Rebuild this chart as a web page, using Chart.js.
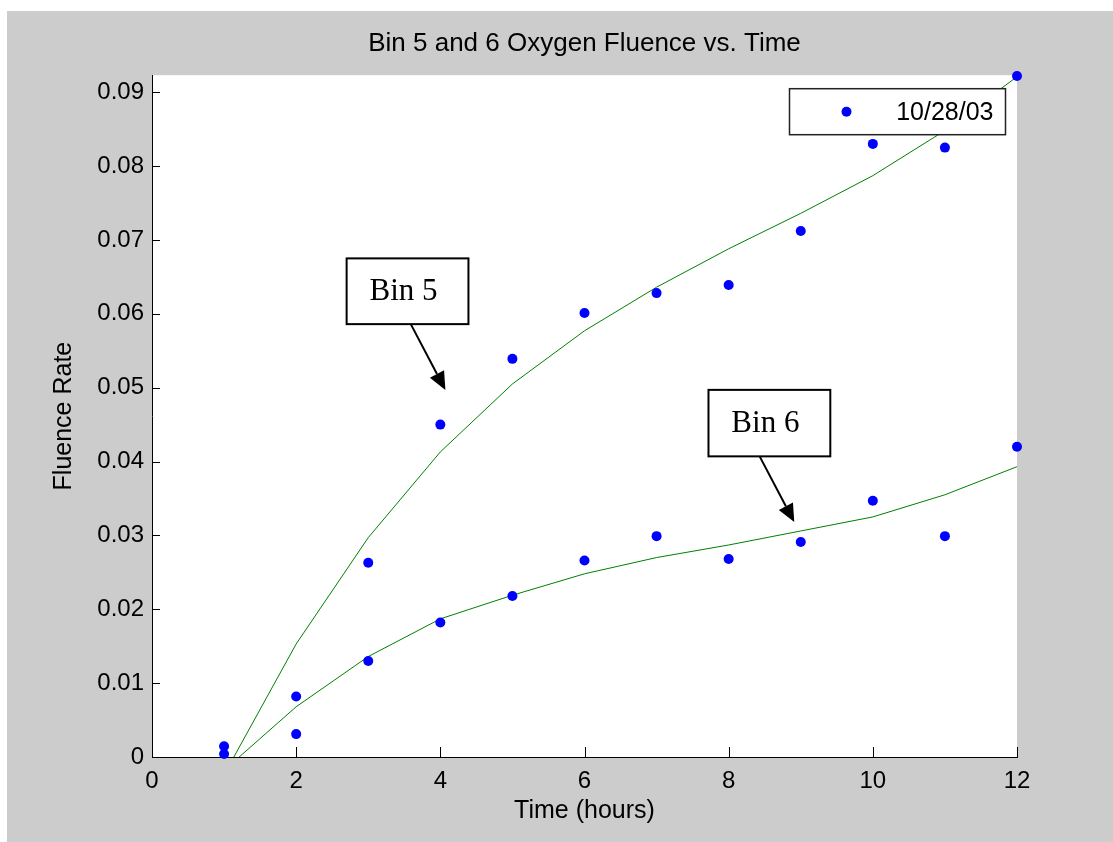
<!DOCTYPE html>
<html>
<head>
<meta charset="utf-8">
<title>Bin 5 and 6 Oxygen Fluence vs. Time</title>
<script src="https://cdn.jsdelivr.net/npm/chart.js@4.4.1/dist/chart.umd.min.js"></script>
<style>
  html, body { margin: 0; padding: 0; background: #fff; }
  #frame { position: absolute; left: 7px; top: 11px; width: 1106px; height: 831px; background: #cccccc; }
  #chart { display: block; }
</style>
</head>
<body>
<div id="frame"><canvas id="chart" width="1106" height="831"></canvas></div>
<script>
// measured values, 10/28/03
const hours = [1, 2, 3, 4, 5, 6, 7, 8, 9, 10, 11, 12];
const bin5 = [0.00145, 0.0082, 0.0263, 0.0450, 0.0539, 0.0601, 0.0628, 0.0639, 0.0712, 0.0830, 0.0825, 0.0922];
const bin6 = [0.0004, 0.0031, 0.0130, 0.0182, 0.0218, 0.0266, 0.0299, 0.0268, 0.0291, 0.0347, 0.0299, 0.0420];
// fitted curves
const bin5Fit = [-0.0024, 0.0153, 0.0297, 0.0413, 0.0505, 0.0577, 0.0636, 0.0688, 0.0736, 0.0787, 0.0848, 0.0921];
const bin6Fit = [-0.0018, 0.0068, 0.0136, 0.0187, 0.0219, 0.0248, 0.0270, 0.0287, 0.0306, 0.0325, 0.0355, 0.0393];

const xTicks = [0, 2, 4, 6, 8, 10, 12];
const yTicks = [0, 0.01, 0.02, 0.03, 0.04, 0.05, 0.06, 0.07, 0.08, 0.09];
const yMax = 0.0923;

// text boxes with arrows, in data units
const notes = [
  { text: 'Bin 5', box: [2.70, 0.0675, 4.39, 0.0586], from: [3.59, 0.0586], to: [4.07, 0.0497] },
  { text: 'Bin 6', box: [7.72, 0.0497, 9.41, 0.0407], from: [8.43, 0.0407], to: [8.91, 0.0318] },
];

const SANS = '"Liberation Sans", Arial, Helvetica, sans-serif';
const SERIF = '"Liberation Serif", "Times New Roman", serif';

const toPts = (ys) => hours.map((h, i) => ({ x: h, y: ys[i] }));

const decor = {
  id: 'decor',
  beforeDraw(chart) {
    const { ctx, chartArea: a } = chart;
    ctx.save();
    ctx.fillStyle = '#fff';
    ctx.fillRect(a.left, a.top, a.right - a.left, a.bottom - a.top);
    ctx.restore();
  },
  afterDraw(chart) {
    const { ctx, chartArea: a, scales: { x, y } } = chart;
    ctx.save();

    // inward tick marks, matlab style
    ctx.strokeStyle = '#000';
    ctx.lineWidth = 1;
    ctx.beginPath();
    xTicks.forEach(v => {
      const px = Math.round(x.getPixelForValue(v)) + 0.5;
      ctx.moveTo(px, a.bottom);
      ctx.lineTo(px, a.bottom - 10);
    });
    yTicks.forEach(v => {
      const py = Math.round(y.getPixelForValue(v)) + 0.5;
      ctx.moveTo(a.left, py);
      ctx.lineTo(a.left + 8, py);
    });
    ctx.stroke();

    // annotation boxes
    notes.forEach(n => {
      const x1 = x.getPixelForValue(n.box[0]), y1 = y.getPixelForValue(n.box[1]);
      const x2 = x.getPixelForValue(n.box[2]), y2 = y.getPixelForValue(n.box[3]);
      ctx.fillStyle = '#fff';
      ctx.fillRect(x1, y1, x2 - x1, y2 - y1);
      ctx.lineWidth = 2;
      ctx.strokeStyle = '#000';
      ctx.strokeRect(x1, y1, x2 - x1, y2 - y1);
      ctx.fillStyle = '#000';
      ctx.font = '31px ' + SERIF;
      ctx.textAlign = 'center';
      ctx.textBaseline = 'middle';
      ctx.fillText(n.text, (x1 + x2) / 2 - 4, (y1 + y2) / 2 + 1);

      const fx = x.getPixelForValue(n.from[0]), fy = y.getPixelForValue(n.from[1]);
      const tx = x.getPixelForValue(n.to[0]), ty = y.getPixelForValue(n.to[1]);
      const ang = Math.atan2(ty - fy, tx - fx);
      const hl = 18, hw = 8;
      const bx = tx - hl * Math.cos(ang), by = ty - hl * Math.sin(ang);
      ctx.beginPath();
      ctx.moveTo(fx, fy);
      ctx.lineTo(bx, by);
      ctx.stroke();
      ctx.beginPath();
      ctx.moveTo(tx, ty);
      ctx.lineTo(bx + hw * Math.sin(ang), by - hw * Math.cos(ang));
      ctx.lineTo(bx - hw * Math.sin(ang), by + hw * Math.cos(ang));
      ctx.closePath();
      ctx.fill();
    });

    // legend box (only the first series is listed)
    const lw = 216, lh = 46;
    const lx = a.right - 11.5 - lw, ly = a.top + 13.5;
    ctx.fillStyle = '#fff';
    ctx.fillRect(lx, ly, lw, lh);
    ctx.lineWidth = 1.5;
    ctx.strokeStyle = '#222';
    ctx.strokeRect(lx, ly, lw, lh);
    ctx.fillStyle = '#0000ff';
    ctx.beginPath();
    ctx.arc(lx + 57, ly + lh / 2, 5, 0, Math.PI * 2);
    ctx.fill();
    ctx.fillStyle = '#000';
    ctx.font = '25px ' + SANS;
    ctx.textAlign = 'right';
    ctx.textBaseline = 'middle';
    ctx.fillText(chart.data.datasets[0].label, lx + lw - 12, ly + lh / 2 + 1);

    ctx.restore();
  }
};

new Chart(document.getElementById('chart'), {
  type: 'scatter',
  data: {
    datasets: [
      { label: '10/28/03', data: toPts(bin5), backgroundColor: '#0000ff', borderColor: '#0000ff', pointRadius: 5, pointHoverRadius: 5, borderWidth: 0, clip: false, order: 1 },
      { label: '10/28/03 bin 6', data: toPts(bin6), backgroundColor: '#0000ff', borderColor: '#0000ff', pointRadius: 5, pointHoverRadius: 5, borderWidth: 0, clip: false, order: 2 },
      { label: 'Bin 5 fit', data: toPts(bin5Fit), showLine: true, borderColor: '#008000', borderWidth: 1, pointRadius: 0, tension: 0, order: 3 },
      { label: 'Bin 6 fit', data: toPts(bin6Fit), showLine: true, borderColor: '#008000', borderWidth: 1, pointRadius: 0, tension: 0, order: 4 },
    ]
  },
  options: {
    responsive: false,
    animation: false,
    devicePixelRatio: 1,
    layout: { padding: { left: 42, right: 96, top: 0, bottom: 16 } },
    plugins: {
      legend: { display: false },
      tooltip: { enabled: false },
      title: {
        display: true,
        fullSize: false,
        text: 'Bin 5 and 6 Oxygen Fluence vs. Time',
        color: '#000',
        font: { family: SANS, size: 26, weight: 'normal' },
        padding: { top: 17, bottom: 16 },
      },
    },
    scales: {
      x: {
        type: 'linear',
        min: 0,
        max: 12,
        afterBuildTicks: (s) => { s.ticks = xTicks.map(v => ({ value: v })); },
        afterFit: (s) => { s.height = 69; },
        ticks: { color: '#000', padding: 10, font: { family: SANS, size: 24 }, maxRotation: 0 },
        grid: { display: false, drawTicks: false },
        border: { color: '#000', width: 1 },
        title: { display: true, text: 'Time (hours)', color: '#000', font: { family: SANS, size: 25 }, padding: 0 },
      },
      y: {
        type: 'linear',
        min: 0,
        max: yMax,
        afterBuildTicks: (s) => { s.ticks = yTicks.map(v => ({ value: v })); },
        afterFit: (s) => { s.width = 103; },
        ticks: {
          color: '#000',
          padding: 8,
          font: { family: SANS, size: 24 },
          callback: (v) => v === 0 ? '0' : v.toFixed(2),
        },
        grid: { display: false, drawTicks: false },
        border: { color: '#000', width: 1 },
        title: { display: true, text: 'Fluence Rate', color: '#000', font: { family: SANS, size: 25 }, padding: 0 },
      },
    },
  },
  plugins: [decor],
});
</script>
</body>
</html>
